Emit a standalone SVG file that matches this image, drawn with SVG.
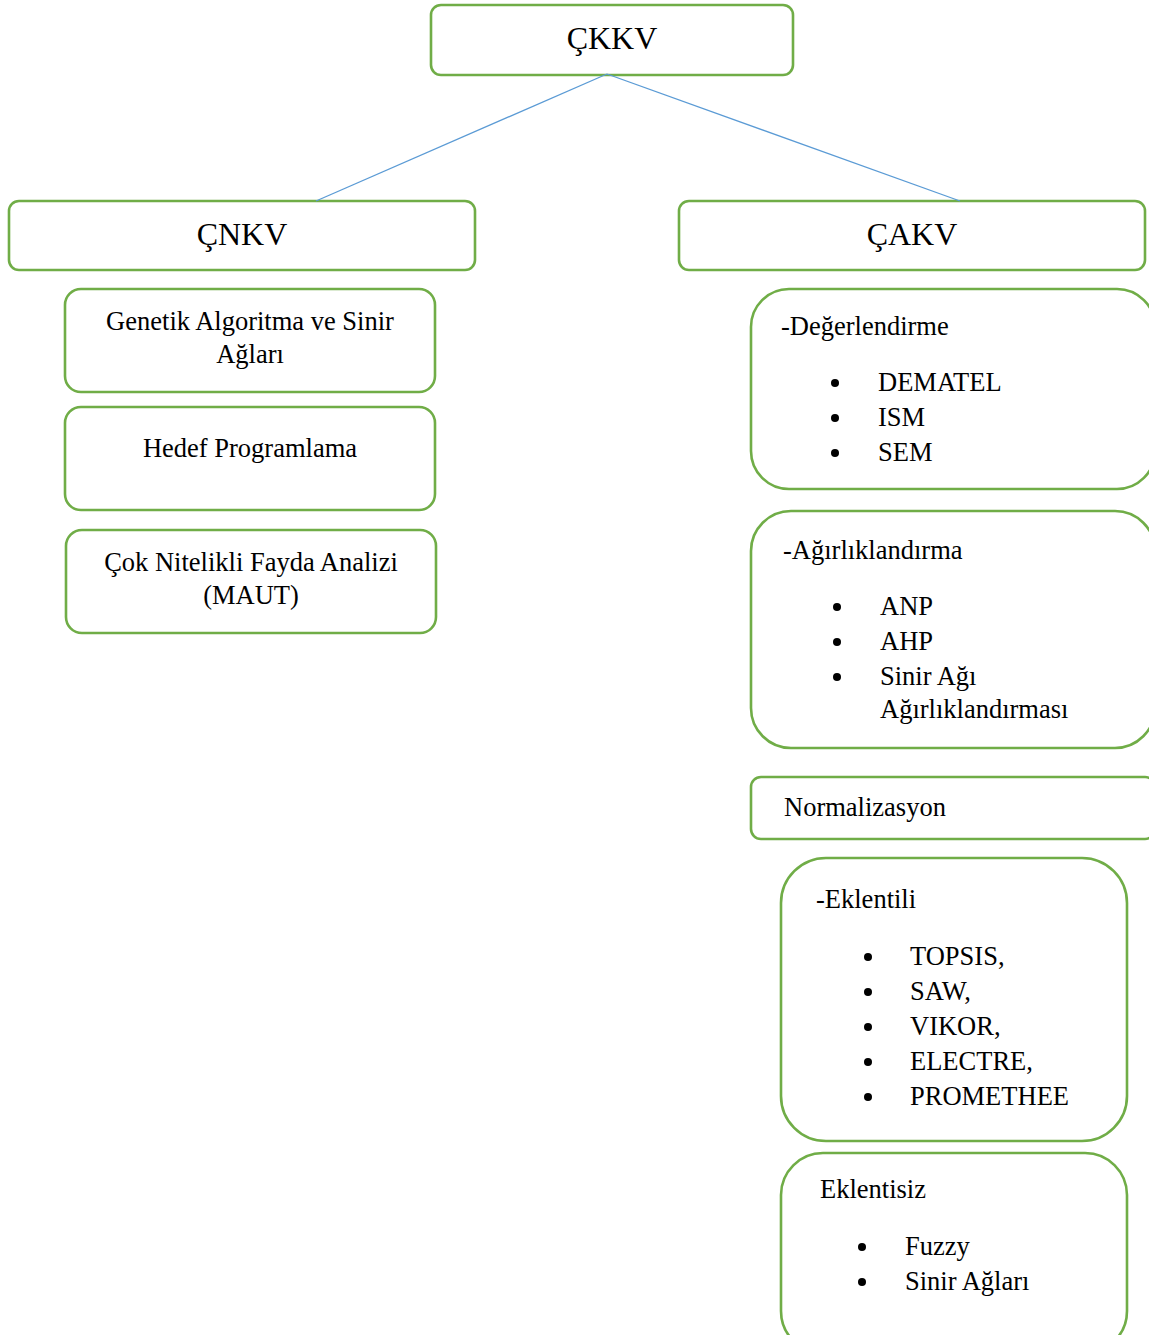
<svg xmlns="http://www.w3.org/2000/svg" width="1149" height="1335" viewBox="0 0 1149 1335">
  <style>
    .box { fill: #ffffff; stroke: #70AD47; stroke-width: 2.6; }
    .link { stroke: #5B9BD5; stroke-width: 1.3; fill: none; }
    text { font-family: "Liberation Serif", "Times New Roman", serif; fill: #000000; }
    .big { font-size: 32px; text-anchor: middle; }
    .mid { font-size: 26.5px; text-anchor: middle; }
    .lbl { font-size: 26.5px; }
    .dot { fill: #000000; }
  </style>
  <rect width="1149" height="1335" fill="#ffffff"/>

  <g id="ckkv">
    <rect class="box" x="431" y="5" width="362" height="70" rx="10"/>
    <text class="big" x="612" y="49">ÇKKV</text>
  </g>

  <g id="cnkv">
    <rect class="box" x="9" y="201" width="466" height="69" rx="10"/>
    <text class="big" x="242" y="245">ÇNKV</text>
  </g>

  <g id="cakv">
    <rect class="box" x="679" y="201" width="466" height="69" rx="10"/>
    <text class="big" x="912" y="245">ÇAKV</text>
  </g>

  <!-- connectors from the root to the two branches -->
  <g id="connectors">
    <line class="link" x1="607" y1="74" x2="316" y2="201"/>
    <line class="link" x1="607" y1="74" x2="960" y2="201"/>
  </g>

  <!-- left branch -->
  <g id="genetik">
    <rect class="box" x="65" y="289" width="370" height="103" rx="16"/>
    <text class="mid" x="250" y="330">Genetik Algoritma ve Sinir</text>
    <text class="mid" x="250" y="363">Ağları</text>
  </g>

  <g id="hedef">
    <rect class="box" x="65" y="407" width="370" height="103" rx="16"/>
    <text class="mid" x="250" y="457">Hedef Programlama</text>
  </g>

  <g id="maut">
    <rect class="box" x="66" y="530" width="370" height="103" rx="16"/>
    <text class="mid" x="251" y="571">Çok Nitelikli Fayda Analizi</text>
    <text class="mid" x="251" y="604">(MAUT)</text>
  </g>

  <!-- right branch -->
  <g id="degerlendirme">
    <rect class="box" x="751" y="289" width="404" height="200" rx="38"/>
    <text class="lbl" x="781" y="335">-Değerlendirme</text>
    <circle class="dot" cx="835" cy="383" r="4"/>
    <circle class="dot" cx="835" cy="418" r="4"/>
    <circle class="dot" cx="835" cy="453" r="4"/>
    <text class="lbl" x="878" y="391">DEMATEL</text>
    <text class="lbl" x="878" y="426">ISM</text>
    <text class="lbl" x="878" y="461">SEM</text>
  </g>

  <g id="agirliklandirma">
    <rect class="box" x="751" y="511" width="404" height="237" rx="40"/>
    <text class="lbl" x="783" y="559">-Ağırlıklandırma</text>
    <circle class="dot" cx="837" cy="607" r="4"/>
    <circle class="dot" cx="837" cy="642" r="4"/>
    <circle class="dot" cx="837" cy="677" r="4"/>
    <text class="lbl" x="880" y="615">ANP</text>
    <text class="lbl" x="880" y="650">AHP</text>
    <text class="lbl" x="880" y="685">Sinir Ağı</text>
    <text class="lbl" x="880" y="718">Ağırlıklandırması</text>
  </g>

  <g id="normalizasyon">
    <rect class="box" x="751" y="777" width="404" height="62" rx="10"/>
    <text class="lbl" x="784" y="816">Normalizasyon</text>
  </g>

  <g id="eklentili">
    <rect class="box" x="781" y="858" width="346" height="283" rx="45"/>
    <text class="lbl" x="816" y="908">-Eklentili</text>
    <circle class="dot" cx="868" cy="957" r="4"/>
    <circle class="dot" cx="868" cy="992" r="4"/>
    <circle class="dot" cx="868" cy="1027" r="4"/>
    <circle class="dot" cx="868" cy="1062" r="4"/>
    <circle class="dot" cx="868" cy="1097" r="4"/>
    <text class="lbl" x="910" y="965">TOPSIS,</text>
    <text class="lbl" x="910" y="1000">SAW,</text>
    <text class="lbl" x="910" y="1035">VIKOR,</text>
    <text class="lbl" x="910" y="1070">ELECTRE,</text>
    <text class="lbl" x="910" y="1105">PROMETHEE</text>
  </g>

  <g id="eklentisiz">
    <rect class="box" x="781" y="1153" width="346" height="200" rx="42"/>
    <text class="lbl" x="820" y="1198">Eklentisiz</text>
    <circle class="dot" cx="862" cy="1247" r="4"/>
    <circle class="dot" cx="862" cy="1282" r="4"/>
    <text class="lbl" x="905" y="1255">Fuzzy</text>
    <text class="lbl" x="905" y="1290">Sinir Ağları</text>
  </g>
</svg>
